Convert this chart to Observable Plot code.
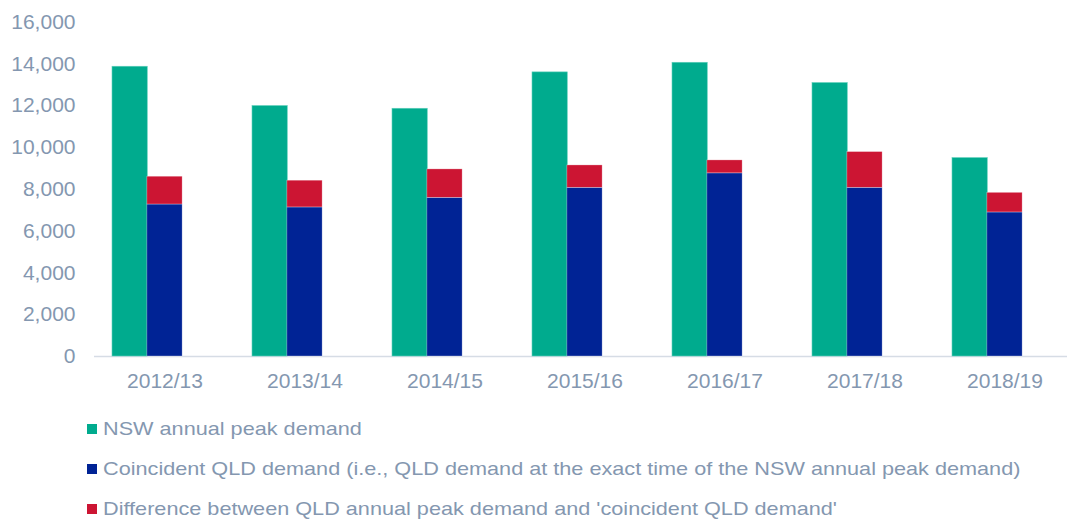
<!DOCTYPE html>
<html>
<head>
<meta charset="utf-8">
<script src="https://cdn.jsdelivr.net/npm/d3@7"></script>
<script src="https://cdn.jsdelivr.net/npm/@observablehq/plot@0.6"></script>
<style>
  html, body { margin: 0; padding: 0; background: #fff; }
  body { width: 1067px; height: 520px; position: relative; overflow: hidden; font-family: "Liberation Sans", Arial, sans-serif; }
  #chart { position: absolute; left: 0; top: 0; }
  .legend { position: absolute; left: 86.5px; top: 0; }
  .row { position: absolute; left: 0; display: flex; align-items: center; white-space: nowrap; color: #8497B0; font-size: 19px; }
  .sw { width: 10px; height: 10px; margin-right: 6px; flex: none; }
  .tx { display: inline-block; transform: scaleX(1.14); transform-origin: 0 50%; }
</style>
</head>
<body>
<div id="chart"></div>
<div class="legend" id="legend"></div>
<script>
const years = ["2012/13", "2013/14", "2014/15", "2015/16", "2016/17", "2017/18", "2018/19"];
const nswPeak = [13860, 11980, 11850, 13590, 14050, 13080, 9490];
const qldCoincident = [7270, 7130, 7590, 8070, 8760, 8070, 6890];
const qldDifference = [1330, 1280, 1360, 1070, 620, 1710, 940];
const yTicks = [0, 2000, 4000, 6000, 8000, 10000, 12000, 14000, 16000];

const seriesNames = [
  "NSW annual peak demand",
  "Coincident QLD demand (i.e., QLD demand at the exact time of the NSW annual peak demand)",
  "Difference between QLD annual peak demand and 'coincident QLD demand'"
];
const seriesColors = ["#00AB8E", "#002395", "#CC1533"];

const nswRows = years.map((y, i) => ({year: y, value: nswPeak[i]}));
const qldRows = [];
years.forEach((y, i) => {
  qldRows.push({year: y, series: seriesNames[1], value: qldCoincident[i]});
  qldRows.push({year: y, series: seriesNames[2], value: qldDifference[i]});
});

// each category band holds three slots: NSW, QLD stack, empty
const slot = 34.87;
const chart = Plot.plot({
  width: 1067,
  height: 400,
  marginLeft: 94,
  marginRight: 0,
  marginTop: 21.5,
  marginBottom: 44,
  style: {fontFamily: "'Liberation Sans', Arial, sans-serif", fontSize: "21px", color: "#8497B0", background: "#fff"},
  x: {domain: years, range: [94, 1074.7], paddingInner: 0.2534, paddingOuter: 0.1267, label: null, tickSize: 0, tickPadding: 17},
  y: {domain: [0, 16000], ticks: yTicks, tickFormat: d3.format(","), label: null, tickSize: 0, tickPadding: 19},
  color: {domain: seriesNames, range: seriesColors},
  marks: [
    Plot.ruleY([0], {stroke: "#D6DCE5", strokeWidth: 1.5}),
    Plot.barY(nswRows, {x: "year", y: "value", fill: seriesColors[0], insetLeft: 0, insetRight: 2 * slot, stroke: "#5fd0bb", strokeWidth: 0.6}),
    Plot.barY(qldRows, {x: "year", y: "value", fill: "series", insetLeft: slot, insetRight: slot, stroke: "#fff", strokeOpacity: 0.5, strokeWidth: 0.6})
  ]
});
document.getElementById("chart").appendChild(chart);

const legend = document.getElementById("legend");
const rowCenters = [428.5, 468.5, 509];
seriesNames.forEach((name, i) => {
  const row = document.createElement("div");
  row.className = "row";
  row.style.top = (rowCenters[i] - 12) + "px";
  row.style.height = "24px";
  const sw = document.createElement("span");
  sw.className = "sw";
  sw.style.background = seriesColors[i];
  const tx = document.createElement("span");
  tx.className = "tx";
  tx.textContent = name;
  row.appendChild(sw);
  row.appendChild(tx);
  legend.appendChild(row);
});
</script>
</body>
</html>
